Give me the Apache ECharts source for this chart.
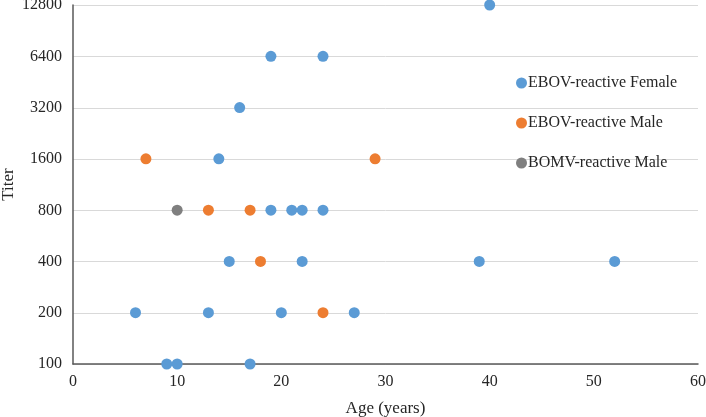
<!DOCTYPE html>
<html><head><meta charset="utf-8">
<script src="https://cdn.jsdelivr.net/npm/echarts@6/dist/echarts.min.js"></script>
<style>html,body{margin:0;padding:0;background:#fff}#c{width:706px;height:417px}</style>
</head><body><div id="c"></div>
<script>
const femaleAge   = [40, 19, 24, 16, 14, 19, 21, 22, 24, 15, 22, 39, 52, 6, 13, 20, 27, 9, 10, 17];
const femaleTiter = [12800, 6400, 6400, 3200, 1600, 800, 800, 800, 800, 400, 400, 400, 400, 200, 200, 200, 200, 100, 100, 100];
const maleAge     = [7, 29, 13, 17, 18, 24];
const maleTiter   = [1600, 1600, 800, 800, 400, 200];
const bomvAge     = [10];
const bomvTiter   = [800];
const yTicks = [100, 200, 400, 800, 1600, 3200, 6400, 12800];

const zip = (a, b) => a.map((v, i) => [v, b[i]]);
const nearestTick = v => yTicks.reduce((best, t) =>
  Math.abs(Math.log(t / v)) < Math.abs(Math.log(best / v)) ? t : best, yTicks[0]);
const font = 'Liberation Serif';
const txt = '#262626';
const chart = echarts.init(document.getElementById('c'));
chart.setOption({
  animation: false,
  textStyle: {fontFamily: font},
  grid: {left: 73, right: 8, top: 5, bottom: 53, containLabel: false, outerBoundsMode: 'none'},
  legend: {
    orient: 'vertical', left: 511, top: 70, itemGap: 24,
    itemWidth: 11, itemHeight: 11, icon: 'circle',
    textStyle: {fontFamily: font, fontSize: 16, color: txt, padding: [0,0,0,-4]},
    data: ['EBOV-reactive Female', 'EBOV-reactive Male', 'BOMV-reactive Male']
  },
  xAxis: {
    type: 'value', min: 0, max: 60, interval: 10,
    name: 'Age (years)', nameLocation: 'middle', nameGap: 36, nameMoveOverlap: false,
    nameTextStyle: {fontFamily: font, fontSize: 17, color: txt},
    axisLine: {lineStyle: {color: '#595959', width: 1.5}},
    axisTick: {show: false},
    axisLabel: {fontFamily: font, fontSize: 16, color: txt, margin: 10},
    splitLine: {show: false}
  },
  yAxis: {
    type: 'log', logBase: 2, min: yTicks[0], max: yTicks[yTicks.length - 1],
    interval: 1,
    name: 'Titer', nameLocation: 'middle', nameGap: 56, nameMoveOverlap: false,
    nameTextStyle: {fontFamily: font, fontSize: 17, color: txt},
    axisLine: {show: true, lineStyle: {color: '#595959', width: 1.5}},
    axisTick: {show: false},
    axisLabel: {fontFamily: font, fontSize: 16, color: txt, margin: 11,
      formatter: v => String(nearestTick(v))},
    splitLine: {lineStyle: {color: '#d9d9d9', width: 1}}
  },
  series: [
    {name: 'EBOV-reactive Female', type: 'scatter', symbolSize: 11, itemStyle: {color: '#5B9BD5', opacity: 1}, data: zip(femaleAge, femaleTiter)},
    {name: 'EBOV-reactive Male', type: 'scatter', symbolSize: 11, itemStyle: {color: '#ED7D31', opacity: 1}, data: zip(maleAge, maleTiter)},
    {name: 'BOMV-reactive Male', type: 'scatter', symbolSize: 11, itemStyle: {color: '#7F7F7F', opacity: 1}, data: zip(bomvAge, bomvTiter)}
  ]
});
</script></body></html>
